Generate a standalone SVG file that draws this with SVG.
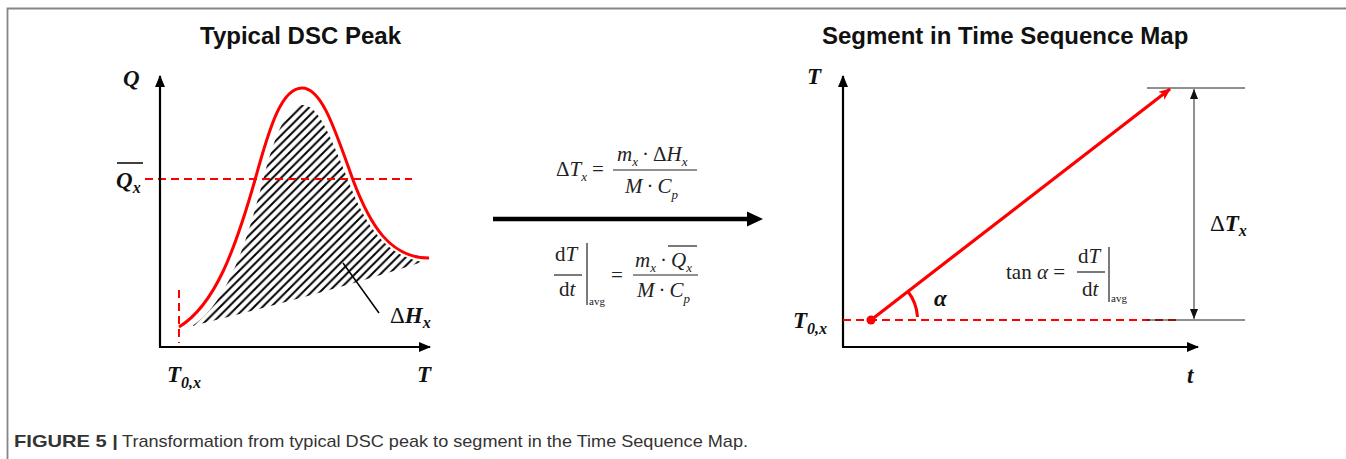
<svg xmlns="http://www.w3.org/2000/svg" width="1346" height="459" viewBox="0 0 1346 459">
<style>
.title{font-family:"Liberation Sans",Arial,sans-serif;font-weight:bold;font-size:24px;fill:#111}
.lab{font-family:"Liberation Serif","Times New Roman",serif;font-weight:bold;font-style:italic;font-size:23px;fill:#111}
.labsub{font-family:"Liberation Serif","Times New Roman",serif;font-weight:bold;font-size:16px;fill:#111}
.m{font-family:"Liberation Serif","Times New Roman",serif;font-size:21px;fill:#222}
.mi{font-style:italic}
.sub{font-size:13px}
.avg{font-family:"Liberation Serif","Times New Roman",serif;font-size:11px;fill:#222}
.axis{stroke:#000;stroke-width:2.2;fill:none}
.dash{stroke:#f00;stroke-width:2;stroke-dasharray:8 5;fill:none}
.thin{stroke:#222;stroke-width:1;fill:none}
.cap{font-family:"Liberation Sans",Arial,sans-serif;font-size:17px;fill:#333}
</style>
<defs>
<marker id="ax" markerUnits="userSpaceOnUse" viewBox="0 0 12 10" refX="11" refY="5" markerWidth="12" markerHeight="10" orient="auto"><path d="M0,0 L12,5 L0,10 z" fill="#000"/></marker>
<marker id="ra" markerUnits="userSpaceOnUse" viewBox="0 0 12 10" refX="11" refY="5" markerWidth="13" markerHeight="10" orient="auto"><path d="M0,0 L12,5 L0,10 L3,5 z" fill="#f00"/></marker>
<marker id="da" markerUnits="userSpaceOnUse" viewBox="0 0 10 8" refX="10" refY="4" markerWidth="10" markerHeight="8" orient="auto-start-reverse"><path d="M0,0 L10,4 L0,8 z" fill="#111"/></marker>
<pattern id="hatch" patternUnits="userSpaceOnUse" width="8.5" height="8.5">
<path d="M-2,10.5 L10.5,-2 M-6.25,6.25 L6.25,-6.25 M2.25,14.75 L14.75,2.25" stroke="#000" stroke-width="2"/>
</pattern>
<clipPath id="hclip"><path d="M192,326 C225,305 245,250 263,180 C276,130 288,105 303,105 C318,105 330,135 348,180 C365,225 385,255 422,262 Q330,292 192,326 z"/></clipPath>
</defs>
<rect width="1346" height="459" fill="#fff"/>
<g id="frame" stroke="#858585" stroke-width="1.8" fill="none"><path d="M7.5,459 L7.5,8.5 L1346,8.5"/></g>
<text class="title" x="200" y="44">Typical DSC Peak</text>
<text class="title" x="822" y="44">Segment in Time Sequence Map</text>

<g id="dsc-peak">
<rect x="185" y="95" width="245" height="235" fill="url(#hatch)" clip-path="url(#hclip)"/>
<path d="M179,327 C215,305 235,250 255,180 C270,125 282,88 302,88 C322,88 335,130 353,180 C370,225 390,258 429,258" stroke="#f00" stroke-width="3" fill="none"/>
<line class="dash" x1="145" y1="179" x2="412" y2="179"/>
<line class="dash" x1="179" y1="290" x2="179" y2="343"/>
<line x1="343" y1="263" x2="379" y2="313" stroke="#000" stroke-width="1.5"/>
<path class="axis" d="M160,347 L160,76" marker-end="url(#ax)"/>
<path class="axis" d="M159,347 L430,347" marker-end="url(#ax)"/>
<text class="lab" x="123" y="86">Q</text>
<line x1="117" y1="163" x2="143" y2="163" stroke="#111" stroke-width="1.6"/>
<text class="lab" x="116" y="188">Q<tspan class="labsub" font-style="italic" dy="5">x</tspan></text>
<text class="lab" x="167" y="382">T<tspan class="labsub" dy="6">0,<tspan font-style="italic">x</tspan></tspan></text>
<text class="lab" x="417" y="382">T</text>
<text class="lab" x="390" y="323"><tspan font-weight="normal" font-style="normal">Δ</tspan>H<tspan class="labsub" font-style="italic" dy="5">x</tspan></text>
</g>

<g id="connectors">
<line x1="493" y1="219" x2="750" y2="219" stroke="#000" stroke-width="4.5"/>
<path d="M747,211.5 L763,219 L747,226.5 z" fill="#000"/>
</g>

<g id="formula-dT">
<text class="m" x="556" y="176">Δ<tspan class="mi">T</tspan><tspan class="mi sub" dy="5">x</tspan><tspan dy="-5" dx="5">=</tspan></text>
<text class="m" x="617" y="161"><tspan class="mi">m</tspan><tspan class="mi sub" dy="5">x</tspan><tspan dy="-5" dx="4">·</tspan><tspan dx="4">Δ</tspan><tspan class="mi">H</tspan><tspan class="mi sub" dy="5">x</tspan></text>
<line x1="613" y1="170" x2="697" y2="170" stroke="#222" stroke-width="1.2"/>
<text class="m" x="625" y="193"><tspan class="mi">M</tspan><tspan dx="4">·</tspan><tspan class="mi" dx="4">C</tspan><tspan class="mi sub" dy="6">p</tspan></text>
</g>

<g id="formula-rate">
<text class="m" x="555" y="261">d<tspan class="mi">T</tspan></text>
<line x1="554" y1="275" x2="582" y2="275" stroke="#222" stroke-width="1.2"/>
<text class="m" x="559" y="296">d<tspan class="mi">t</tspan></text>
<line x1="587" y1="243" x2="587" y2="305" stroke="#222" stroke-width="1.2"/>
<text class="avg" x="589" y="305">avg</text>
<text class="m" x="611" y="282">=</text>
<text class="m" x="635" y="267"><tspan class="mi">m</tspan><tspan class="mi sub" dy="5">x</tspan><tspan dy="-5" dx="4">·</tspan><tspan class="mi" dx="4">Q</tspan><tspan class="mi sub" dy="5">x</tspan></text>
<line x1="668" y1="246" x2="697" y2="246" stroke="#222" stroke-width="1.2"/>
<line x1="633" y1="275" x2="698" y2="275" stroke="#222" stroke-width="1.2"/>
<text class="m" x="637" y="297"><tspan class="mi">M</tspan><tspan dx="4">·</tspan><tspan class="mi" dx="4">C</tspan><tspan class="mi sub" dy="6">p</tspan></text>
</g>

<g id="time-map">
<path class="axis" d="M843,347 L843,76" marker-end="url(#ax)"/>
<path class="axis" d="M842,347 L1198,347" marker-end="url(#ax)"/>
<line class="dash" x1="843" y1="320" x2="1176" y2="320" stroke-dasharray="10 6"/>
<line class="thin" x1="1147" y1="88" x2="1245" y2="88"/>
<line class="thin" x1="1147" y1="320" x2="1245" y2="320"/>
<line class="thin" x1="1194" y1="89" x2="1194" y2="319" marker-start="url(#da)" marker-end="url(#da)"/>
<line x1="871" y1="320" x2="1170" y2="89" stroke="#f00" stroke-width="3.2" marker-end="url(#ra)"/>
<circle cx="871" cy="320" r="4.5" fill="#f00"/>
<path d="M908,291.5 A47,47 0 0 1 917.5,317" stroke="#f00" stroke-width="3" fill="none"/>
<text class="lab" x="807" y="84">T</text>
<text class="lab" x="1187" y="383">t</text>
<text class="lab" x="793" y="328">T<tspan class="labsub" dy="6">0,<tspan font-style="italic">x</tspan></tspan></text>
<text class="lab" x="934" y="306">α</text>
<text class="lab" x="1210" y="231"><tspan font-weight="normal" font-style="normal">Δ</tspan>T<tspan class="labsub" font-style="italic" dy="5">x</tspan></text>
<text class="m" x="1006" y="279">tan <tspan class="mi">α</tspan> =</text>
<text class="m" x="1078" y="263">d<tspan class="mi">T</tspan></text>
<line x1="1077" y1="272" x2="1105" y2="272" stroke="#222" stroke-width="1.2"/>
<text class="m" x="1082" y="296">d<tspan class="mi">t</tspan></text>
<line x1="1109" y1="247" x2="1109" y2="302" stroke="#222" stroke-width="1.2"/>
<text class="avg" x="1111" y="302">avg</text>
</g>

<g id="caption">
<text class="cap" x="14" y="447" font-weight="bold" fill="#222" textLength="104" lengthAdjust="spacingAndGlyphs">FIGURE 5 |</text>
<text class="cap" x="122" y="447" textLength="626" lengthAdjust="spacingAndGlyphs">Transformation from typical DSC peak to segment in the Time Sequence Map.</text>
</g>
</svg>
